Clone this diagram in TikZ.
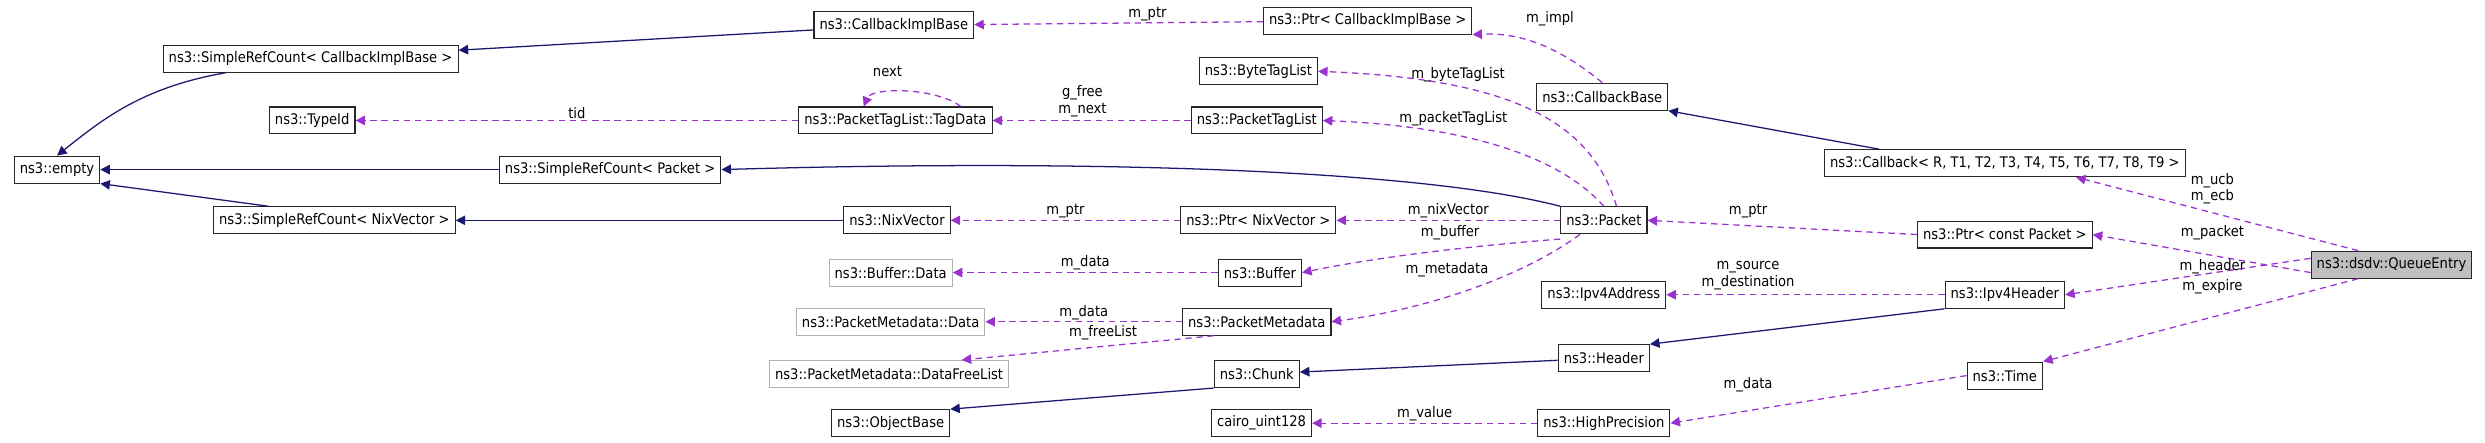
\documentclass[tikz,border=0pt]{standalone}
\usepackage{fontspec}
\setmainfont{DejaVu Sans Condensed}
\usetikzlibrary{arrows.meta}
\definecolor{inh}{HTML}{191970}
\definecolor{usg}{HTML}{9A32CD}
\begin{document}
\begin{tikzpicture}[x=1pt,y=-1pt,
  every node/.style={font=\fontsize{9.2}{10.5}\selectfont},
  box/.style={draw=black!85,line width=0.7pt,minimum height=17pt,inner xsep=3.5pt,inner ysep=0pt,anchor=center},
  gbox/.style={box,draw=black!30},
  main/.style={box,fill=black!25},
  inh/.style={draw=inh,line width=0.8pt,-{Triangle[length=6pt,width=6pt]}},
  use/.style={draw=usg,line width=0.8pt,dash pattern=on 4pt off 3pt,-{Triangle[length=6pt,width=6pt]}},
  lab/.style={inner sep=0pt,text=black}]
\useasboundingbox (0,0) rectangle (1568,279.5);
\node[box] (empty) at (36,107) {ns3::empty};
\node[box] (srccib) at (196,37) {ns3::SimpleRefCount< CallbackImplBase >};
\node[box] (typeid) at (197,76) {ns3::TypeId};
\node[box] (srcpkt) at (385,107) {ns3::SimpleRefCount< Packet >};
\node[box] (srcnix) at (211,139) {ns3::SimpleRefCount< NixVector >};
\node[box] (cib) at (564,16) {ns3::CallbackImplBase};
\node[box] (tagdata) at (565,76) {ns3::PacketTagList::TagData};
\node[box] (nix) at (566,139) {ns3::NixVector};
\node[gbox] (bufdata) at (562,172) {ns3::Buffer::Data};
\node[gbox] (pmdata) at (562,203) {ns3::PacketMetadata::Data};
\node[gbox] (pmfree) at (561,236) {ns3::PacketMetadata::DataFreeList};
\node[box] (objbase) at (562,267) {ns3::ObjectBase};
\node[box] (ptrcib) at (863,13) {ns3::Ptr< CallbackImplBase >};
\node[box] (btl) at (794,45) {ns3::ByteTagList};
\node[box] (ptl) at (793,76) {ns3::PacketTagList};
\node[box] (ptrnix) at (794,139) {ns3::Ptr< NixVector >};
\node[box] (buffer) at (795,172) {ns3::Buffer};
\node[box] (pm) at (793,203) {ns3::PacketMetadata};
\node[box] (chunk) at (793,236) {ns3::Chunk};
\node[box] (cairo) at (796,267) {cairo\_uint128};
\node[box] (cbbase) at (1011,61) {ns3::CallbackBase};
\node[box] (packet) at (1012,139) {ns3::Packet};
\node[box] (ipaddr) at (1012,186) {ns3::Ipv4Address};
\node[box] (header) at (1012,226) {ns3::Header};
\node[box] (hp) at (1012,267) {ns3::HighPrecision};
\node[box] (cb) at (1265,103) {ns3::Callback< R, T1, T2, T3, T4, T5, T6, T7, T8, T9 >};
\node[box] (ptrpkt) at (1265,148) {ns3::Ptr< const Packet >};
\node[box] (iphdr) at (1265,186) {ns3::Ipv4Header};
\node[box] (time) at (1265,237) {ns3::Time};
\node[main] (qe) at (1509,167) {ns3::dsdv::QueueEntry};
% inheritance
\draw[inh] ([xshift=40pt]srccib.south west) .. controls (90,55) and (65,75) .. (empty.north);
\draw[inh] (srcpkt) -- (empty);
\draw[inh] ([xshift=35pt]srcnix.north west) -- (empty.south east);
\draw[inh] (cib) -- (srccib);
\draw[inh] (nix) -- (srcnix);
\draw[inh] (packet.north west) .. controls (900,108) and (700,100) .. (srcpkt.east);
\draw[inh] ([xshift=35pt]cb.north west) -- (cbbase.south east);
\draw[inh] (header) -- (chunk);
\draw[inh] (chunk.south west) -- (objbase.north east);
\draw[inh] (iphdr.south west) -- (header.north east);
% usage
\draw[use] (ptrcib) -- node[lab,above=1pt,pos=0.4]{m\_ptr} (cib);
\draw[use] (cbbase.north) .. controls (990,35) and (965,20) .. (ptrcib.south east);
\node[lab] at (978,12) {m\_impl};
\draw[use] ([xshift=8pt]packet.north) .. controls (1005,80) and (960,50) .. (btl.east);
\node[lab] at (920,47) {m\_byteTagList};
\draw[use] (packet.north) .. controls (985,100) and (930,80) .. (ptl.east);
\node[lab] at (917,75) {m\_packetTagList};
\draw[use] (ptl) -- (tagdata);
\node[lab,align=center] at (683,64) {g\_free\\m\_next};
\draw[use] ([xshift=-20pt]tagdata.north east) .. controls (590,55) and (550,55) .. ([xshift=-20pt]tagdata.north);
\node[lab] at (560,45) {next};
\draw[use] (tagdata) -- node[lab,above=1pt]{tid} (typeid);
\draw[use] (packet) -- node[lab,above=1pt]{m\_nixVector} (ptrnix);
\draw[use] (ptrnix) -- node[lab,above=1pt]{m\_ptr} (nix);
\draw[use] ([yshift=-3pt]packet.south west) .. controls (930,155) and (870,162) .. (buffer.east);
\node[lab] at (915,147) {m\_buffer};
\draw[use] (buffer) -- node[lab,above=1pt]{m\_data} (bufdata);
\draw[use] ([xshift=-15pt]packet.south) .. controls (960,175) and (900,195) .. (pm.east);
\node[lab] at (913,170) {m\_metadata};
\draw[use] (pm) -- node[lab,above=1pt]{m\_data} (pmdata);
\draw[use] ([xshift=20pt]pm.south west) -- ([xshift=-30pt]pmfree.north east);
\node[lab] at (696,210) {m\_freeList};
\draw[use] (hp) -- node[lab,above=1pt]{m\_value} (cairo);
\draw[use] (ptrpkt.west) -- (packet.east);
\node[lab] at (1103,133) {m\_ptr};
\draw[use] (iphdr) -- (ipaddr);
\node[lab,align=center] at (1103,174) {m\_source\\m\_destination};
\draw[use] (time.west) -- (hp.east);
\node[lab] at (1103,243) {m\_data};
\draw[use] ([xshift=30pt]qe.north west) -- ([xshift=45pt]cb.south);
\node[lab,align=center] at (1396,119) {m\_ucb\\m\_ecb};
\draw[use] ([yshift=-5pt]qe.west) -- (ptrpkt.east);
\node[lab] at (1396,147) {m\_packet};
\draw[use] ([yshift=4pt]qe.west) -- (iphdr.east);
\node[lab] at (1396,168) {m\_header};
\draw[use] ([xshift=30pt]qe.south west) -- (time.north east);
\node[lab] at (1396,181) {m\_expire};
\end{tikzpicture}
\end{document}
